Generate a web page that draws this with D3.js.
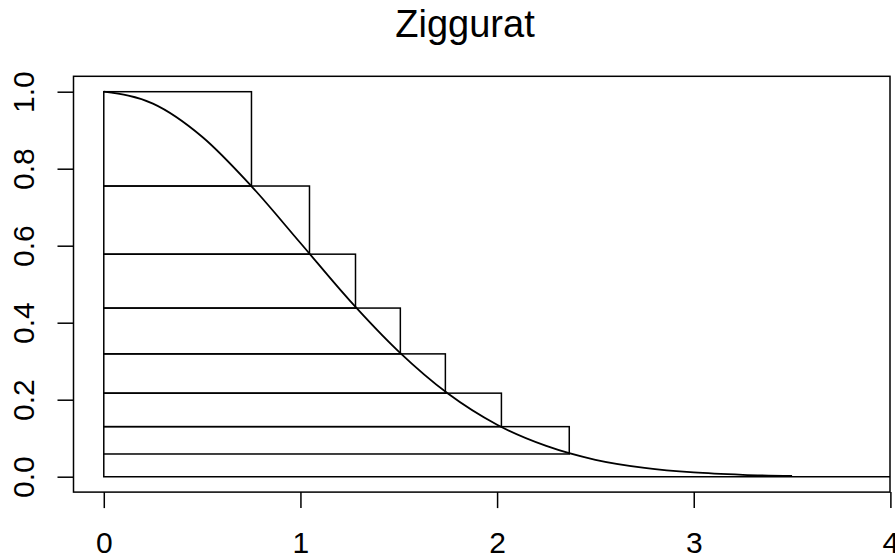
<!DOCTYPE html>
<html>
  <meta charset="utf-8">
  <head>
  <style>
    body {
      margin: 0;
      background: #fff;
    }
    svg text {
      font-family: "Liberation Sans", Arial, sans-serif;
      fill: #000;
    }
  </style>
  </head>
  <body>
    <div id="chart"></div>

    <script src="https://cdn.jsdelivr.net/npm/d3@7"></script>
    <script>

    'use strict';

    // layers of the ziggurat: right edge, top and bottom of each box
    var layerRight  = [0.751, 1.046, 1.280, 1.508, 1.737, 2.022, 2.367];
    var layerTop    = [1.000, 0.755, 0.578, 0.438, 0.319, 0.217, 0.130];
    var layerBottom = [0.755, 0.578, 0.438, 0.319, 0.217, 0.130, 0.059];

    // base strip (tail runs off to the right edge)
    var baseTop = 0.059;

    // density curve
    var curveX = [0, 0.25, 0.5, 0.75, 1.0, 1.25, 1.5, 1.75, 2.0, 2.25, 2.5, 2.75, 3.0, 3.25, 3.5];
    var curveY = [1.000, 0.969, 0.883, 0.755, 0.607, 0.458, 0.325, 0.216, 0.135, 0.080, 0.044, 0.023, 0.011, 0.005, 0.002];

    var xTicks = [0, 1, 2, 3, 4];
    var yTicks = [0, 0.2, 0.4, 0.6, 0.8, 1.0];
    var title = 'Ziggurat';

    var W = 895, H = 559;
    var box = {left: 73.5, right: 890, top: 76.3, bottom: 492.1};

    var x = d3.scaleLinear().domain([-0.154, 3.998]).range([box.left, box.right]);
    var y = d3.scaleLinear().domain([-0.04, 1.04]).range([box.bottom, box.top]);

    var svg = d3.select('#chart').append('svg')
      .attr('width', W)
      .attr('height', H);

    var lw = 1.5;

    // title
    svg.append('text')
      .attr('x', 465)
      .attr('y', 37)
      .attr('text-anchor', 'middle')
      .style('font-size', '38px')
      .text(title);

    // plot box
    svg.append('rect')
      .attr('x', box.left)
      .attr('y', box.top)
      .attr('width', box.right - box.left)
      .attr('height', box.bottom - box.top)
      .attr('fill', 'none')
      .attr('stroke', '#000')
      .attr('stroke-width', lw);

    // x axis
    var xAxis = svg.append('g')
      .attr('transform', 'translate(0,' + box.bottom + ')')
      .call(d3.axisBottom(x).tickValues(xTicks).tickSize(16).tickFormat(d3.format('d')));
    xAxis.select('.domain').remove();
    xAxis.selectAll('line').attr('stroke', '#000').attr('stroke-width', lw);
    xAxis.selectAll('text')
      .attr('y', 61).attr('dy', null)
      .style('font-size', '30px');

    // y axis
    var yAxis = svg.append('g')
      .attr('transform', 'translate(' + box.left + ',0)')
      .call(d3.axisLeft(y).tickValues(yTicks).tickSize(16).tickFormat(d3.format('.1f')));
    yAxis.select('.domain').remove();
    yAxis.selectAll('line').attr('stroke', '#000').attr('stroke-width', lw);
    yAxis.selectAll('text')
      .attr('x', null).attr('dy', null)
      .attr('text-anchor', 'middle')
      .attr('transform', 'translate(' + (33.5 - box.left) + ',0) rotate(-90)')
      .style('font-size', '30px');
    yAxis.attr('font-family', null);
    xAxis.attr('font-family', null);

    var plot = svg.append('g');

    // ziggurat layers
    plot.selectAll('rect.layer')
      .data(layerRight)
      .join('rect')
      .attr('class', 'layer')
      .attr('x', x(0))
      .attr('y', (d, i) => y(layerTop[i]))
      .attr('width', d => x(d) - x(0))
      .attr('height', (d, i) => y(layerBottom[i]) - y(layerTop[i]))
      .attr('fill', 'none')
      .attr('stroke', '#000')
      .attr('stroke-width', lw);

    // base strip: left side and the bottom line out to the box edge
    plot.append('path')
      .attr('d', d3.line()([[x(0), y(baseTop)], [x(0), y(0)], [box.right, y(0)]]))
      .attr('fill', 'none')
      .attr('stroke', '#000')
      .attr('stroke-width', lw);

    // density curve
    var line = d3.line()
      .x(d => x(d))
      .y((d, i) => y(curveY[i]))
      .curve(d3.curveMonotoneX);

    plot.append('path')
      .datum(curveX)
      .attr('d', line)
      .attr('fill', 'none')
      .attr('stroke', '#000')
      .attr('stroke-width', 1.8);

    </script>
  </body>
</html>
